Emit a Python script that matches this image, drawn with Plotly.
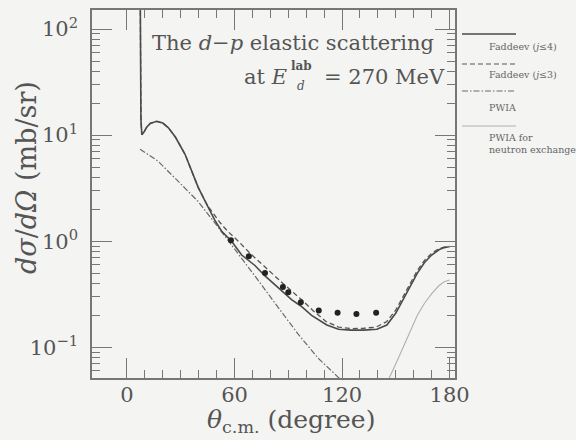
import plotly.graph_objects as go

# ---------------- data ----------------
theta_j4 = [7.2, 7.5, 7.8, 8.3, 9.5, 11, 13, 16.6, 20, 23, 27, 32.4, 36, 39.8, 45, 49, 53,
            58.4, 64, 71.4, 77, 86.3, 92, 97, 103, 111.5, 118, 125, 132, 139.4, 145, 150,
            154, 158, 162, 166, 170, 174, 177, 180]
xs_j4 = [1000, 40, 14, 10.1, 10.7, 11.9, 12.9, 13.5, 13.0, 11.8, 9.6, 6.6, 4.7, 3.2, 2.14, 1.58, 1.23,
         1.0, 0.74, 0.59, 0.47, 0.34, 0.28, 0.245, 0.2, 0.162, 0.148, 0.145, 0.145, 0.148, 0.162, 0.21,
         0.28, 0.38, 0.5, 0.63, 0.74, 0.83, 0.87, 0.89]

theta_j3 = [7.2, 7.5, 7.8, 8.3, 9.5, 11, 13, 16.6, 20, 23, 27, 32.4, 36, 39.8, 45, 51.9, 56,
            62.1, 69, 77, 87, 97.5, 104, 111, 118, 125, 132, 139, 145, 150, 154, 158, 162,
            166, 170, 174, 177, 180]
xs_j3 = [1000, 40, 14, 10.1, 10.7, 11.9, 12.9, 13.5, 13.0, 11.8, 9.6, 6.6, 4.7, 3.2, 2.16, 1.5, 1.25,
         1.0, 0.76, 0.57, 0.4, 0.28, 0.22, 0.175, 0.155, 0.15, 0.151, 0.155, 0.175, 0.225, 0.3, 0.4, 0.53,
         0.66, 0.77, 0.85, 0.88, 0.89]

theta_pwia = [7.3, 17.3, 28.5, 39.6, 50.8, 62.0, 73.1, 84.3, 95.5, 106.6, 118.9, 125]
xs_pwia = [7.38, 5.69, 3.68, 2.38, 1.36, 0.77, 0.43, 0.238, 0.133, 0.079, 0.050, 0.040]

theta_nex = [144, 146, 150, 154, 158, 162, 166, 170, 174, 177, 180]
xs_nex = [0.04, 0.05, 0.07, 0.10, 0.14, 0.20, 0.26, 0.32, 0.38, 0.415, 0.43]

theta_exp = [58, 68, 77, 87, 90, 97, 107, 117.5, 128, 139]
xs_exp = [1.02, 0.72, 0.50, 0.37, 0.33, 0.266, 0.222, 0.211, 0.206, 0.211]

x_major = [0, 60, 120, 180]
x_minor = [10, 20, 30, 40, 50, 70, 80, 90, 100, 110, 130, 140, 150, 160, 170]
y_major = [0.1, 1, 10, 100]
y_major_text = ["10<sup>\u22121</sup>", "10<sup>0</sup>", "10<sup>1</sup>", "10<sup>2</sup>"]
y_minor = [0.06, 0.07, 0.08, 0.09] + [m * d for d in (0.1, 1, 10) for m in range(2, 10)]

legend_labels = ["Faddeev (<i>j</i>\u22644)", "Faddeev (<i>j</i>\u22643)", "PWIA",
                 "PWIA for<br>neutron exchange"]

# ---------------- figure ----------------
DARK = "#4a4a4a"
BG = "#f4f4f2"
SERIF = "DejaVu Serif"

fig = go.Figure()
fig.add_trace(go.Scatter(x=theta_nex, y=xs_nex, mode="lines",
                         line=dict(color="#b0b0b0", width=1.1), showlegend=False))
fig.add_trace(go.Scatter(x=theta_pwia, y=xs_pwia, mode="lines",
                         line=dict(color="#6a6a6a", width=1.2, dash="6px,2px,1.5px,2px"),
                         showlegend=False))
fig.add_trace(go.Scatter(x=theta_j3, y=xs_j3, mode="lines",
                         line=dict(color="#555555", width=1.3, dash="5px,3px"), showlegend=False))
fig.add_trace(go.Scatter(x=theta_j4, y=xs_j4, mode="lines",
                         line=dict(color=DARK, width=1.6), showlegend=False))
fig.add_trace(go.Scatter(x=theta_exp, y=xs_exp, mode="markers",
                         marker=dict(color="#222222", size=6), showlegend=False))

axis_common = dict(showline=True, linecolor="#777777", linewidth=1.5, mirror="ticks",
                   ticks="inside", tickcolor="#777777", tickwidth=1.3, ticklen=20,
                   showgrid=False, zeroline=False, automargin=False,
                   tickfont=dict(family=SERIF, size=21, color="#555555"))

fig.update_xaxes(range=[-19.5, 183], tickmode="array", tickvals=x_major,
                 ticktext=[str(v) for v in x_major], ticklabelstandoff=-3,
                 minor=dict(tickmode="array", tickvals=x_minor, ticks="inside", ticklen=8,
                            tickcolor="#777777", tickwidth=1.2, showgrid=False),
                 **axis_common)
fig.update_yaxes(type="log", range=[-1.29, 2.18], tickmode="array", tickvals=y_major,
                 ticktext=y_major_text, ticklabelstandoff=8,
                 minor=dict(tickmode="array", tickvals=y_minor, ticks="inside", ticklen=8,
                            tickcolor="#777777", tickwidth=1.2, showgrid=False),
                 **axis_common)

L, R, T, B = 92, 121, 10, 62
W, H = 576, 440
pw, ph = W - L - R, H - T - B


def px2paper(x, y):
    return (x - L) / pw, (H - B - y) / ph


annos = []
tcol = "#555555"


def add_text(xp, yp, text, size, xanchor="center", family=SERIF, color=tcol, **kw):
    ax, ay = px2paper(xp, yp)
    annos.append(dict(x=ax, y=ay, xref="paper", yref="paper", showarrow=False,
                      xanchor=xanchor, yanchor="middle", text=text, align="left",
                      font=dict(family=family, size=size, color=color), **kw))


# axis titles
add_text(291, 421, "<i>\u03b8</i><sub>c.m.</sub> (degree)", 25)
add_text(26, 178, "<i>d\u03c3</i>/<i>d\u03a9</i> (mb/sr)", 27, textangle=-90)
# inner title
add_text(150, 43, "The <i>d</i>\u2212<i>p</i> elastic scattering", 21, xanchor="left")
add_text(322, 77, "= 270 MeV", 21, xanchor="left")
add_text(289, 77, "at <i>E</i>", 21, xanchor="right")
add_text(289, 66, "<b>lab</b>", 12, xanchor="left")
add_text(295, 86, "<i>d</i>", 12, xanchor="left")

# legend (outside, right)
shapes = []
leg_line_y = [34, 64, 91, 126]
leg_text_y = [46, 75, 107, 144]
leg_styles = [dict(color=DARK, width=1.4), dict(color="#555555", width=1.2, dash="5px,3px"),
              dict(color="#6a6a6a", width=1.2, dash="6px,2px,1.5px,2px"),
              dict(color="#b0b0b0", width=1.1)]
for ly, ty, lab, st in zip(leg_line_y, leg_text_y, legend_labels, leg_styles):
    x0, y0 = px2paper(462, ly)
    x1, _ = px2paper(516, ly)
    shapes.append(dict(type="line", xref="paper", yref="paper", x0=x0, x1=x1, y0=y0, y1=y0,
                       line=st))
    add_text(487, ty, lab, 9.5, xanchor="left", color="#666666")

fig.update_layout(width=W, height=H, margin=dict(l=L, r=R, t=T, b=B),
                  paper_bgcolor=BG, plot_bgcolor=BG, annotations=annos, shapes=shapes,
                  showlegend=False)

fig.write_html("out.html", config={"displayModeBar": False},
               post_script="document.body.style.margin='0';"
                           "document.body.style.background='#f4f4f2';")
